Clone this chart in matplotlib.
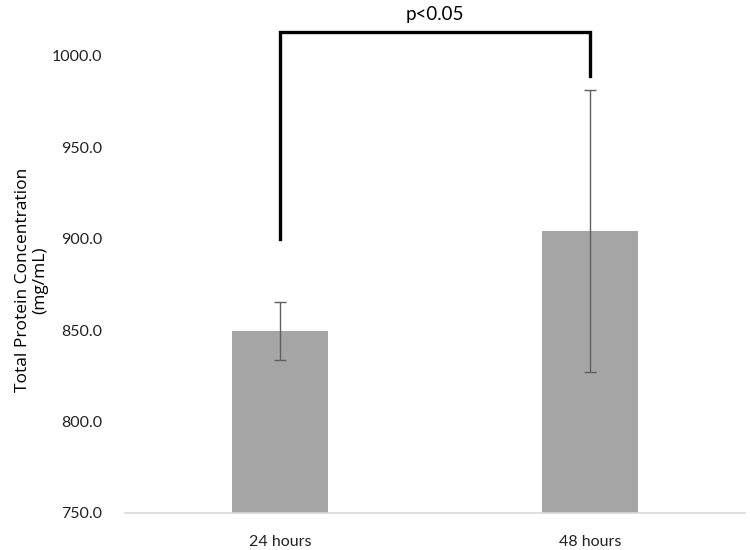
import matplotlib
matplotlib.use("Agg")
import matplotlib.pyplot as plt
import numpy as np

# data
categories = ["24 hours", "48 hours"]
means = [849.5, 904.0]
errors = [16.0, 77.0]
yticks = [750.0, 800.0, 850.0, 900.0, 950.0, 1000.0]
sig_label = "p<0.05"

plt.rcParams["font.family"] = ["Lato", "DejaVu Sans"]

fig = plt.figure(figsize=(7.5, 5.5), dpi=100)
ax = fig.add_axes([125 / 750, 37 / 550, 620 / 750, 494 / 550])

x = np.arange(len(categories))
ax.bar(x, means, width=0.31, color="#A5A5A5", zorder=2)
ax.errorbar(x, means, yerr=errors, fmt="none", ecolor="#5F5F5F",
            elinewidth=1.0, capsize=4, capthick=1.0, zorder=3)

ax.set_xlim(-0.5, 1.5)
ax.set_ylim(750, 1020)
ax.set_yticks(yticks)
ax.set_yticklabels([f"{v:.1f}" for v in yticks], fontsize=11.5, color="#222222")
ax.set_xticks(x)
ax.set_xticklabels(categories, fontsize=11.5, color="#222222")
ax.tick_params(axis="both", length=0)
ax.tick_params(axis="y", pad=16.5)
ax.tick_params(axis="x", pad=16)

for side in ["top", "right", "left"]:
    ax.spines[side].set_visible(False)
ax.spines["bottom"].set_color("#D9D9D9")
ax.spines["bottom"].set_linewidth(1.2)

ax.set_ylabel("Total Protein Concentration\n(mg/mL)", fontsize=12.5,
              family=["Open Sans", "DejaVu Sans"], linespacing=1.1)
ax.yaxis.set_label_coords(-0.124, 0.472)

# significance bracket
ax.plot([x[0], x[0], x[1], x[1]], [900, 1013, 1013, 989], color="black",
        lw=2.4, clip_on=False, solid_joinstyle="miter", zorder=4)
ax.text((x[0] + x[1]) / 2, 1018, sig_label, ha="center", va="bottom",
        fontsize=13.5, clip_on=False)

fig.savefig("out.png", dpi=100)
